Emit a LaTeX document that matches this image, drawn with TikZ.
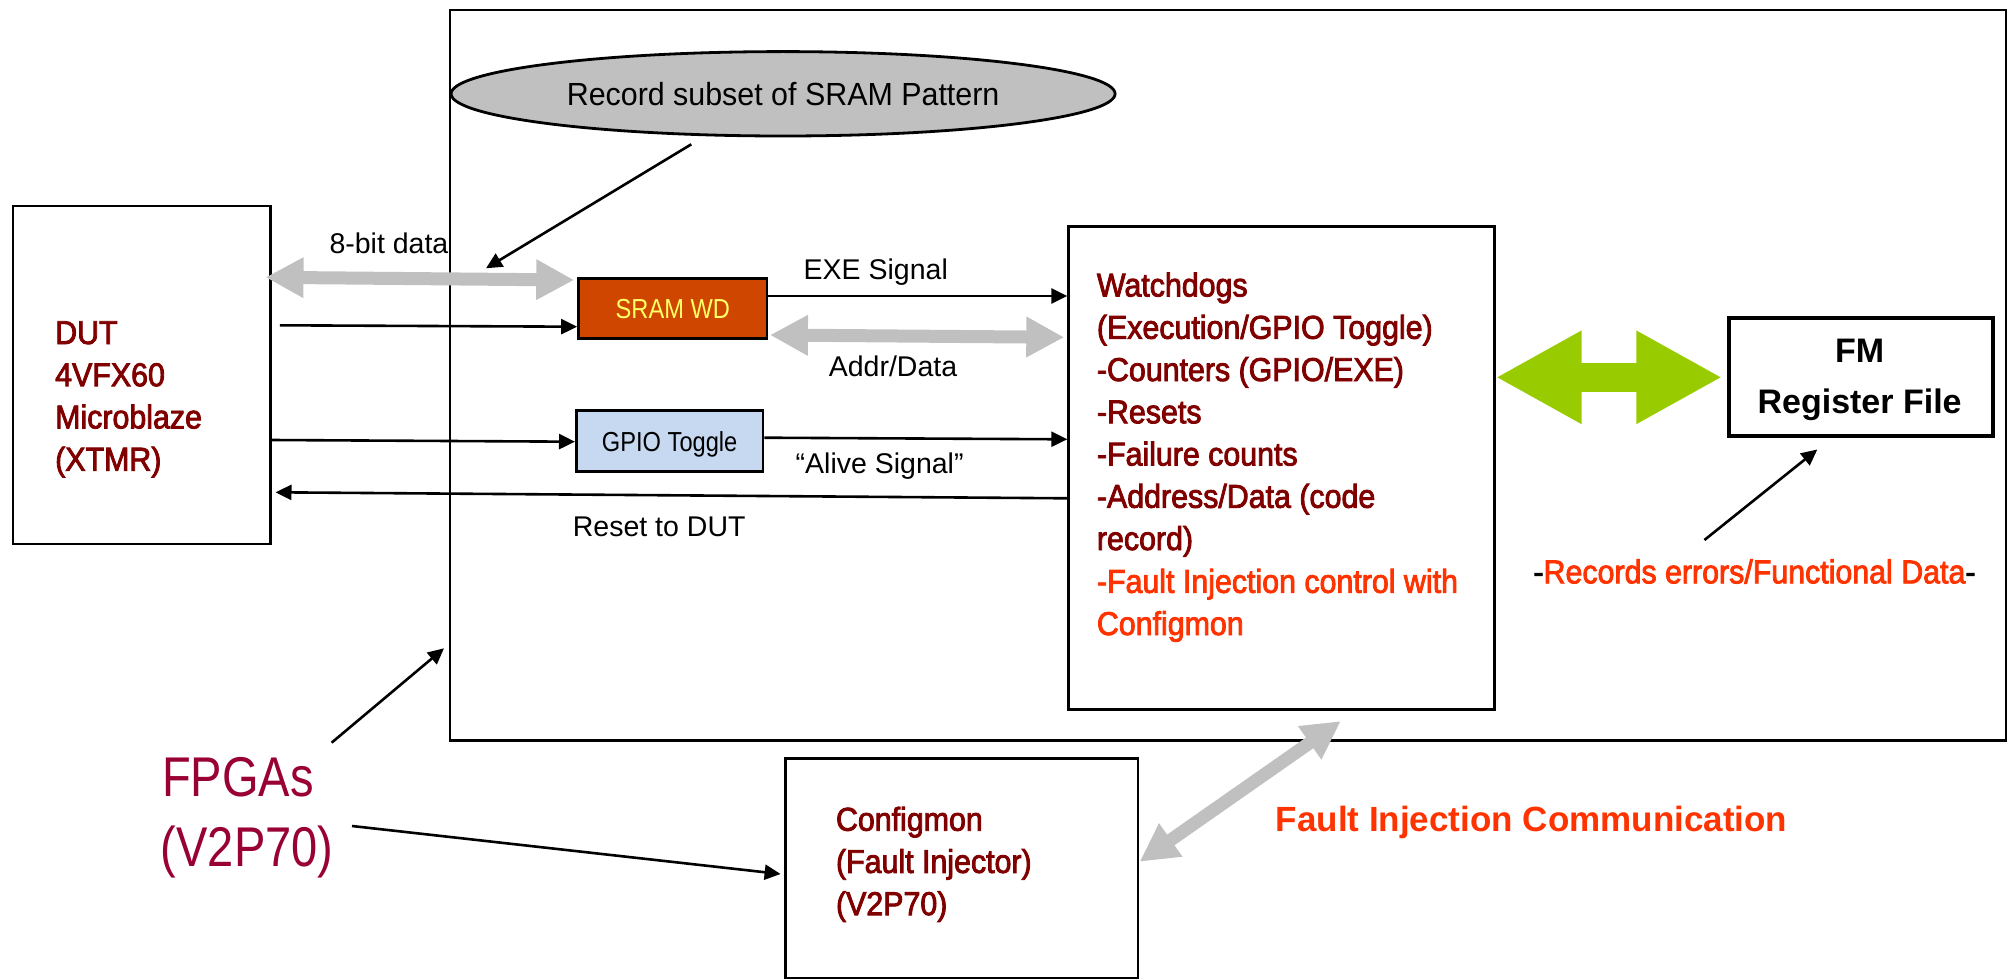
\documentclass[tikz,border=0pt]{standalone}
\usepackage{fontspec}
\setmainfont{Liberation Sans}
\newfontfamily\fblk[FakeStretch=0.92,FakeBold=2.5]{Liberation Sans}
\newfontfamily\fnrw[FakeStretch=0.86]{Liberation Sans}
\newfontfamily\ffpga[FakeStretch=0.84]{Liberation Sans}
\newfontfamily\frec[FakeStretch=0.95]{Liberation Sans}
\usetikzlibrary{arrows.meta,shapes.geometric,calc}
\definecolor{dred}{RGB}{128,0,0}
\definecolor{ored}{RGB}{255,51,0}
\definecolor{fpgac}{RGB}{153,0,51}
\definecolor{sramc}{RGB}{206,70,0}
\definecolor{sramtxt}{RGB}{255,255,102}
\definecolor{gpioc}{RGB}{198,217,241}
\definecolor{busgray}{RGB}{192,192,192}
\definecolor{lgreen}{RGB}{153,204,0}
\begin{document}
\begin{tikzpicture}[x=1pt,y=-1pt,
  box/.style={draw=black, line width=2.2pt, inner sep=0pt, anchor=north west},
  blk/.style={inner sep=0pt, anchor=base west, text=dred, font=\fblk\fontsize{33}{40}\selectfont},
  lbl/.style={inner sep=0pt, anchor=base west, font=\fontsize{28.5}{34}\selectfont},
  conn/.style={line width=2.6pt, -{Triangle[length=16pt,width=15pt]}},
  bus/.style={line width=13pt, draw=busgray, {Triangle[length=38pt,width=38pt]}-{Triangle[length=38pt,width=38pt]}},
  gbus/.style={line width=29pt, draw=lgreen, {Triangle[length=86pt,width=87pt]}-{Triangle[length=86pt,width=87pt]}}
]
\useasboundingbox (0,0) rectangle (2009,979);

% boxes
\node[box, minimum width=1556pt, minimum height=730pt] (board) at (449,9.3) {};
\node[box, minimum width=257.6pt, minimum height=338pt] (dut) at (11.7,205) {};
\node[box, line width=2.8pt, fill=sramc, minimum width=188.4pt, minimum height=60pt,
      text=sramtxt, text depth=0pt, font=\fnrw\fontsize{27.5}{33}\selectfont] (sram) at (577.2,277.3) {SRAM WD};
\node[box, line width=2.8pt, fill=gpioc, minimum width=186.5pt, minimum height=60.7pt,
      text depth=0pt, font=\fnrw\fontsize{27.5}{33}\selectfont] (gpio) at (575,409.3) {GPIO Toggle};
\node[box, line width=2.8pt, minimum width=426pt, minimum height=482.7pt] (wd) at (1067.3,225) {};
\node[box, line width=3.8pt, minimum width=263.9pt, minimum height=118.3pt] (fm) at (1727.3,316) {};
\node[box, minimum width=352.3pt, minimum height=219.7pt] (cfg) at (784.4,757.3) {};
\node[ellipse, draw=black, line width=2.8pt, fill=busgray, minimum width=664pt, minimum height=84.4pt,
      inner sep=0pt, font=\frec\fontsize{32}{38}\selectfont] (rec) at (783.1,93.8) {Record subset of SRAM Pattern};

% block texts
\foreach \t [count=\i] in {DUT,4VFX60,Microblaze,(XTMR)}
  \node[blk] (dut\i) at (55,{344+42.2*(\i-1)}) {\t};
\foreach \t [count=\i] in {Watchdogs,(Execution/GPIO Toggle),-Counters (GPIO/EXE),-Resets,-Failure counts,-Address/Data (code,record)}
  \node[blk] (wd\i) at (1096.7,{296.5+42.25*(\i-1)}) {\t};
\node[blk, text=ored] (wd8) at (1096.7,592.8) {-Fault Injection control with};
\node[blk, text=ored] (wd9) at (1096.7,635) {Configmon};
\foreach \t [count=\i] in {Configmon,(Fault Injector),(V2P70)}
  \node[blk] (cfg\i) at (835.8,{830.7+42.2*(\i-1)}) {\t};
\node[inner sep=0pt, anchor=base, font=\bfseries\fontsize{34}{40}\selectfont] (fm1) at (1859.6,362.7) {FM};
\node[inner sep=0pt, anchor=base, font=\bfseries\fontsize{34}{40}\selectfont] (fm2) at (1859.6,413.3) {Register File};

% labels
\node[lbl] (l8bit) at (329.3,253.3) {8-bit data};
\node[lbl] (lexe) at (803.5,279.3) {EXE Signal};
\node[lbl] (laddr) at (828.6,376.7) {Addr/Data};
\node[lbl] (lalive) at (795.5,473) {“Alive Signal”};
\node[lbl] (lreset) at (572.7,536.7) {Reset to DUT};
\node[blk, text=ored] (lrecerr) at (1533.3,583.3) {\textcolor{black}{-}Records errors/Functional Data\textcolor{black}{-}};
\node[inner sep=0pt, anchor=base west, text=ored, font=\bfseries\fontsize{35}{42}\selectfont] (lfic) at (1275.6,831.7) {Fault Injection Communication};
\node[inner sep=0pt, anchor=base west, text=fpgac, font=\ffpga\fontsize{56}{70}\selectfont] (fpga1) at (162,796.5) {FPGAs};
\node[inner sep=0pt, anchor=base west, text=fpgac, font=\ffpga\fontsize{56}{70}\selectfont] (fpga2) at (160.7,866.7) {(V2P70)};

% free ends
\coordinate (recsrc) at (691.3,144.3);
\coordinate (recdst) at (486,268.3);
\coordinate (errsrc) at (1704.4,540);
\coordinate (fpsrc1) at (331.6,742.7);
\coordinate (fpsrc2) at (352,826);

% gray and green buses
\draw[bus] ($(dut.east |- 0,277.3)+(-6,0)$) -- ($(sram.west |- 0,280)+(-3,0)$);
\draw[bus] ($(sram.east |- 0,335)+(1.5,0)$) -- ($(wd.west |- 0,337.3)+(-3,0)$);
\draw[bus] ($(cfg.east |- 0,861.7)+(0.7,0)$) -- ($(wd.south west)+(273.5,10.6)$);
\draw[gbus] ($(wd.east |- 0,377.3)+(-0.5,0)$) -- ($(fm.west |- 0,377.3)+(-5,0)$);

% black connectors
\draw[conn] (recsrc) -- (recdst);
\draw[conn] ($(dut.east |- 0,325.3)+(8.4,0)$) -- (sram.west |- 0,326.7);
\draw[conn] (sram.east |- 0,296) -- (wd.west |- 0,296);
\draw[conn] (dut.east |- 0,440) -- (gpio.west |- 0,441.7);
\draw[conn] (gpio.east |- 0,437.7) -- (wd.west |- 0,439.3);
\draw[conn] (wd.west |- 0,498.3) -- ($(dut.east |- 0,492.3)+(4,0)$);
\draw[conn] (fpsrc1) -- ($(board.west |- 0,648.3)+(-5,0)$);
\draw[conn] (fpsrc2) -- ($(cfg.west |- 0,874)+(-3.8,0)$);
\draw[conn] (errsrc) -- ($(fm.south west)+(90,11.4)$);
\end{tikzpicture}
\end{document}
